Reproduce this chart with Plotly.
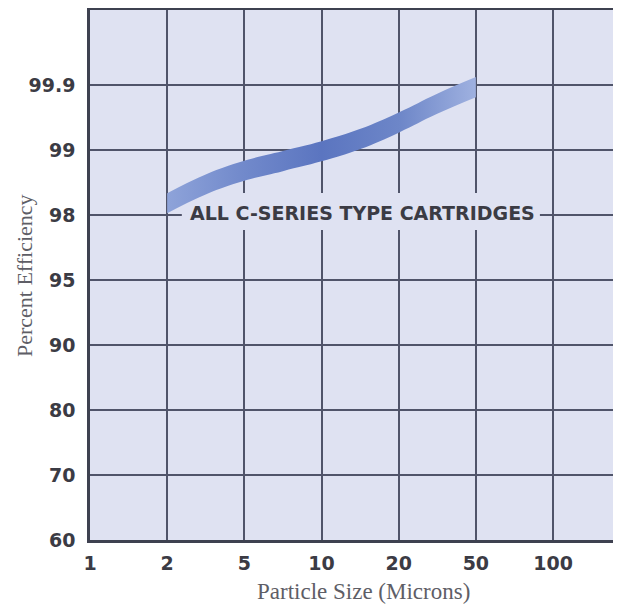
import numpy as np
import plotly.graph_objects as go

# ---- data ----
size_ticks = [1, 2, 5, 10, 20, 50, 100]                  # particle size (microns)
size_labels = ["1", "2", "5", "10", "20", "50", "100"]
eff_ticks = [60, 70, 80, 90, 95, 98, 99, 99.9]            # percent efficiency
eff_labels = ["60", "70", "80", "90", "95", "98", "99", "99.9"]

curve_size = [2, 3.16, 5, 7.07, 10, 14.1, 20, 31.6, 50]
curve_eff = [98.18, 98.47, 98.68, 98.83, 98.98, 99.15, 99.38, 99.64, 99.87]
curve_label = "ALL C-SERIES TYPE CARTRIDGES"

# ---- chart's own (non-uniform) scales: equally spaced tick grid ----
def x_scale(v):
    return np.interp(np.log10(v), np.log10(size_ticks), np.arange(len(size_ticks)))

def y_scale(v):
    return np.interp(v, eff_ticks, np.arange(len(eff_ticks)))

cx = x_scale(np.array(curve_size))
cy = y_scale(np.array(curve_eff))
half = 0.155  # band half-thickness in grid units

BG = "#dfe2f2"
GRID = "#50546a"
TXT = "#3b3b44"

W = 640
PW = W - 82  # plot width in px

fig = go.Figure()
fig.add_trace(go.Scatter(x=cx, y=cy - half, mode="lines",
                         line=dict(width=0, shape="spline", smoothing=1.3,
                                   color="rgba(0,0,0,0)"),
                         hoverinfo="skip", showlegend=False))
fig.add_trace(go.Scatter(x=cx, y=cy + half, mode="lines", fill="tonexty",
                         line=dict(width=0, shape="spline", smoothing=1.3,
                                   color="rgba(0,0,0,0)"),
                         fillgradient=dict(type="horizontal",
                                           colorscale=[[0, "#8ea3d9"], [0.25, "#7189cb"],
                                                       [0.5, "#5b75c0"], [0.75, "#6d86c8"],
                                                       [1, "#9fb1e0"]]),
                         hoverinfo="skip", showlegend=False))

# background patch that interrupts the gridlines behind the label (below the band)
fig.add_shape(type="rect", xref="x", yref="y", x0=1.19, x1=5.83, y0=4.77, y1=5.34,
              fillcolor=BG, line=dict(width=0), layer="between")

fig.add_annotation(x=3.525, y=5.03, xref="x", yref="y", text=curve_label,
                   showarrow=False, xanchor="center", yanchor="middle",
                   font=dict(family="DejaVu Sans", size=19, color=TXT, weight="bold"))

fig.add_annotation(x=(355 - 82) / PW, y=-0.098, xref="paper", yref="paper",
                   xanchor="center", yanchor="middle",
                   text="Particle Size (Microns)", showarrow=False,
                   font=dict(family="Liberation Serif", size=23, color="#5e5e66"))
fig.add_annotation(x=(16 - 82) / PW, y=0.498, xref="paper", yref="paper", textangle=-90,
                   xanchor="center", yanchor="middle",
                   text="Percent Efficiency", showarrow=False,
                   font=dict(family="Liberation Serif", size=22, color="#5e5e66"))

fig.update_xaxes(range=[0, PW / 77.17], tickvals=list(range(len(size_ticks))),
                 ticktext=size_labels, showgrid=True, gridcolor=GRID, gridwidth=1.5,
                 zeroline=False, showline=True, linecolor="#3e4150", linewidth=2.5,
                 mirror=True, ticks="", ticklabelstandoff=4,
                 tickfont=dict(family="DejaVu Sans", size=19, color=TXT, weight="bold"))
fig.update_yaxes(range=[0, 530 / 65], tickvals=list(range(len(eff_ticks))),
                 ticktext=eff_labels, showgrid=True, gridcolor=GRID, gridwidth=1.5,
                 zeroline=False, showline=True, linecolor="#3e4150", linewidth=2.5,
                 ticks="", ticklabelstandoff=8,
                 tickfont=dict(family="DejaVu Sans", size=19, color=TXT, weight="bold"))

fig.update_layout(width=W, height=598, margin=dict(l=82, r=0, t=2, b=66),
                  plot_bgcolor=BG, paper_bgcolor="white", showlegend=False)

fig.write_html("out.html")
